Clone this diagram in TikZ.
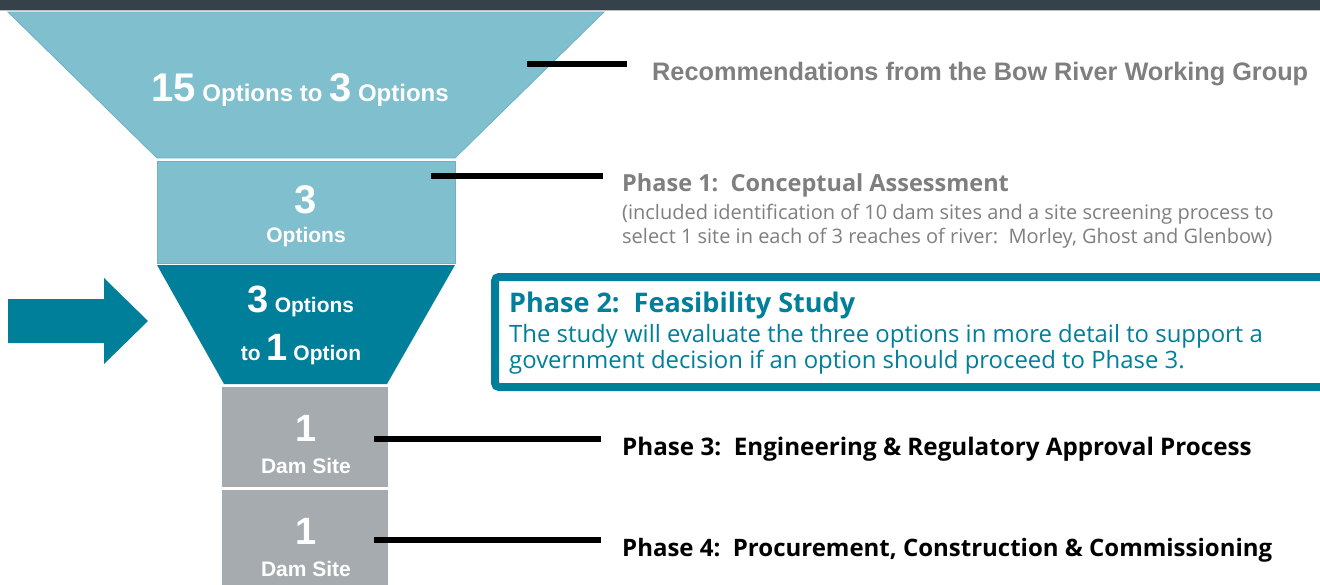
\documentclass[tikz,border=0pt]{standalone}
\usepackage{fontspec}
\setmainfont{Liberation Sans}
\newfontfamily\seg{Open Sans}
\definecolor{topbar}{HTML}{36424A}
\definecolor{lteal}{HTML}{80BFCE}
\definecolor{lteale}{HTML}{6CB2C4}
\definecolor{dteal}{HTML}{007F9A}
\definecolor{dgray}{HTML}{A5ABAE}
\definecolor{txtgray}{HTML}{7F7F7F}
\newcommand{\fs}[1]{\fontsize{#1}{#1}\selectfont}
\tikzset{
  seg/.style={line width=0.8pt},
  ftext/.style={text=white, font=\bfseries, inner sep=0, align=center},
  conn/.style={line width=6pt, black},
  phase/.style={inner sep=0, anchor=base west, align=left},
}
\begin{document}
\begin{tikzpicture}[x=1pt,y=-1pt]
\useasboundingbox (0,0) rectangle (1320,584);
\fill[white] (0,0) rectangle (1320,584);
\fill[topbar] (0,0) rectangle (1320,9.5);
\draw[black!25, line width=1pt] (0,10.5) -- (1320,10.5);
% funnel
\filldraw[seg, fill=lteal, draw=lteale] (8,12) -- (604,12) -- (455,158) -- (157,158) -- cycle;
\filldraw[seg, fill=lteal, draw=lteale] (157,161) rectangle (455,263);
\fill[dteal] (157,265) -- (455,265) -- (387,384) -- (224,384) -- cycle;
\fill[dgray] (222,387) rectangle (388,487);
\fill[dgray] (222,490) rectangle (388,590);
% arrow
\fill[dteal] (8,299) -- (104,299) -- (104,278) -- (148,321) -- (104,364) -- (104,343) -- (8,343) -- cycle;
% funnel texts
\node[ftext] (t1) at (300,90) {\fs{40}15\fs{24} Options to \fs{40}3\fs{24} Options};
\node[ftext] (t2a) at (306,200) {\fs{40}3};
\node[ftext] (t2b) at (306,237) {\fs{21}Options};
\node[ftext] (t3a) at (301,301) {\fs{38}3\fs{21} Options};
\node[ftext] (t3b) at (301,350) {\fs{21}to \fs{38}1\fs{21} Option};
\node[ftext] (t4a) at (306,428) {\fs{38}1};
\node[ftext] (t4b) at (306,466) {\fs{21}Dam Site};
\node[ftext] (t5a) at (306,531) {\fs{38}1};
\node[ftext] (t5b) at (306,569) {\fs{21}Dam Site};
% phase 2 box
\draw[dteal, line width=8pt, rounded corners=4pt] (495,277) rectangle (1340,387);
% labels
\node[phase, text=txtgray, font=\bfseries\fs{25.3}] (rec) at (652,80) {Recommendations from the Bow River Working Group};
\node[phase, text=txtgray, font=\seg\bfseries\fs{23.5}] (p1) at (622,191) {Phase 1:\ \ Conceptual Assessment};
\node[phase, text=txtgray, font=\seg\fs{20}] (p1a) at (622,219) {(included identification of 10 dam sites and a site screening process to};
\node[phase, text=txtgray, font=\seg\fs{20}] (p1b) at (622,243) {select 1 site in each of 3 reaches of river:\ \ Morley, Ghost and Glenbow)};
\node[phase, text=dteal, font=\seg\bfseries\fs{27}] (p2) at (509,312) {Phase 2:\ \ Feasibility Study};
\node[phase, text=dteal, font=\seg\fs{23.9}] (p2a) at (509,342) {The study will evaluate the three options in more detail to support a};
\node[phase, text=dteal, font=\seg\fs{23.9}] (p2b) at (509,368) {government decision if an option should proceed to Phase 3.};
\node[phase, text=black, font=\seg\bfseries\fs{24.2}] (p3) at (622,455) {Phase 3:\ \ Engineering \& Regulatory Approval Process};
\node[phase, text=black, font=\seg\bfseries\fs{24}] (p4) at (622,556) {Phase 4:\ \ Procurement, Construction \& Commissioning};
% connectors
\coordinate (c1a) at (527,64); \coordinate (c1b) at (627,64);
\coordinate (c2a) at (431,176); \coordinate (c2b) at (603,176);
\coordinate (c3a) at (374,439); \coordinate (c3b) at (601,439);
\coordinate (c4a) at (374,540); \coordinate (c4b) at (601,540);
\draw[conn] (c1a) -- (c1b);
\draw[conn] (c2a) -- (c2b);
\draw[conn] (c3a) -- (c3b);
\draw[conn] (c4a) -- (c4b);
\end{tikzpicture}
\end{document}
